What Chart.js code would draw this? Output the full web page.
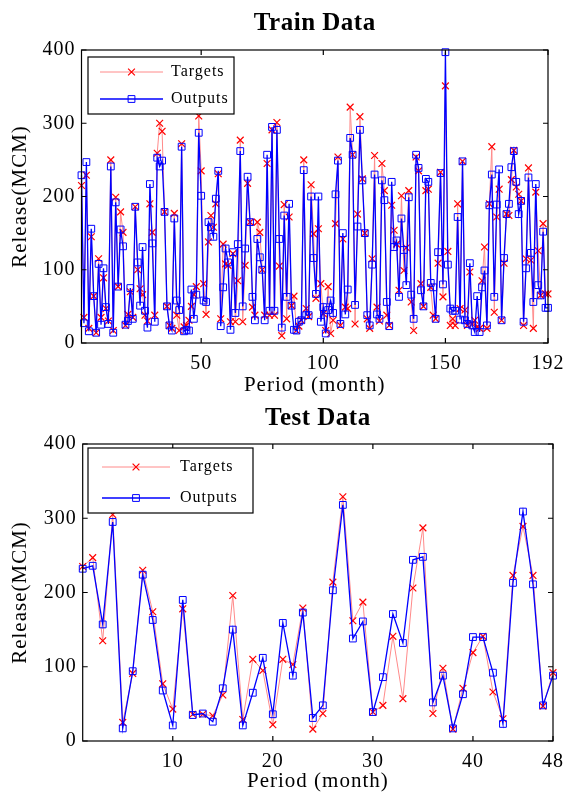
<!DOCTYPE html>
<html>
<head>
<meta charset="utf-8">
<script src="https://cdn.jsdelivr.net/npm/chart.js@4.4.1/dist/chart.umd.min.js"></script>
<style>
  html, body { margin: 0; padding: 0; background: #fff; }
  canvas { display: block; }
</style>
</head>
<body>
<canvas id="graficoTreino" width="572" height="398"></canvas>
<canvas id="graficoTeste" width="572" height="398"></canvas>
<script>
// valores (MCM por mes)
const trainTargets = [
  215, 35, 229, 20, 145, 64, 14, 115, 35, 89, 47, 30, 250, 17, 199, 77, 179, 151, 24, 39,
  70, 35, 186, 100, 74, 66, 38, 30, 190, 151, 38, 259, 300, 289, 179, 50, 24, 20, 177, 38,
  17, 272, 22, 24, 31, 50, 66, 77, 310, 235, 81, 39, 138, 174, 158, 190, 231, 33, 135, 108,
  106, 29, 122, 29, 85, 277, 29, 106, 218, 165, 49, 38, 165, 151, 100, 38, 245, 38, 291, 38,
  301, 105, 10, 189, 33, 172, 51, 64, 17, 23, 31, 250, 47, 36, 216, 149, 61, 156, 81, 40,
  17, 77, 13, 31, 163, 254, 24, 142, 49, 47, 322, 257, 26, 176, 309, 224, 150, 33, 20, 115,
  256, 49, 30, 245, 208, 38, 24, 188, 154, 135, 72, 201, 99, 130, 208, 56, 17, 254, 235, 81,
  50, 208, 210, 76, 38, 33, 109, 233, 63, 351, 125, 24, 33, 24, 190, 47, 248, 45, 24, 97,
  26, 31, 22, 20, 85, 131, 20, 190, 268, 42, 172, 210, 31, 109, 176, 174, 223, 263, 213, 203,
  194, 24, 115, 239, 113, 20, 206, 126, 65, 163, 67, 67
];
const trainOutputs = [
  229, 27, 247, 16, 156, 64, 14, 108, 25, 102, 49, 26, 241, 14, 192, 77, 155, 132, 25, 30,
  75, 33, 186, 110, 51, 131, 44, 21, 217, 136, 29, 253, 241, 249, 179, 50, 24, 17, 170, 58,
  45, 268, 16, 18, 17, 73, 33, 66, 287, 201, 58, 56, 165, 158, 145, 197, 235, 23, 76, 129,
  110, 18, 124, 41, 135, 262, 50, 129, 227, 165, 63, 31, 142, 117, 100, 31, 257, 44, 295, 44,
  291, 142, 21, 174, 63, 190, 51, 18, 17, 29, 31, 236, 38, 38, 200, 116, 67, 200, 29, 49,
  13, 45, 58, 41, 203, 249, 26, 150, 39, 73, 280, 257, 52, 159, 291, 222, 150, 38, 24, 107,
  230, 39, 33, 222, 195, 56, 23, 220, 131, 140, 63, 170, 127, 79, 199, 66, 33, 257, 239, 72,
  50, 224, 220, 82, 76, 33, 124, 232, 80, 397, 107, 47, 44, 44, 172, 32, 248, 31, 26, 109,
  24, 15, 64, 15, 76, 99, 24, 188, 230, 63, 189, 237, 31, 116, 176, 190, 240, 262, 220, 176,
  194, 29, 102, 226, 123, 56, 217, 79, 65, 152, 48, 48
];
const testTargets = [
  235, 247, 135, 305, 25, 91, 230, 174, 77, 43, 178, 36, 36, 34, 62, 196, 29, 110, 95, 22,
  110, 103, 179, 16, 37, 214, 329, 162, 187, 39, 48, 141, 57, 206, 287, 37, 98, 16, 71, 119,
  141, 66, 30, 223, 289, 223, 47, 92
];
const testOutputs = [
  232, 236, 157, 295, 17, 94, 224, 163, 68, 21, 190, 35, 37, 26, 71, 150, 21, 65, 112, 36,
  159, 88, 173, 31, 48, 203, 318, 138, 161, 39, 86, 171, 132, 244, 248, 52, 88, 17, 63, 140,
  140, 92, 23, 213, 309, 211, 48, 88
];
const trainTicksX = [50, 100, 150, 192];
const testTicksX = [10, 20, 30, 40, 48];
const seriesNames = ['Targets', 'Outputs'];

const fonte = "'Liberation Serif', 'Times New Roman', serif";
const espacoLetras = '1px';

// caixa do eixo com marcas para dentro, como no matlab
const moldura = {
  id: 'moldura',
  beforeDraw(chart) {
    chart.ctx.letterSpacing = espacoLetras;
  },
  afterDatasetsDraw(chart) {
    const { ctx, chartArea: a, scales } = chart;
    const tam = 5;
    ctx.save();
    ctx.strokeStyle = '#000';
    ctx.lineWidth = 1.2;
    ctx.strokeRect(a.left, a.top, a.right - a.left, a.bottom - a.top);
    ctx.beginPath();
    scales.x.ticks.forEach(t => {
      const px = scales.x.getPixelForValue(t.value);
      ctx.moveTo(px, a.bottom); ctx.lineTo(px, a.bottom - tam);
      ctx.moveTo(px, a.top); ctx.lineTo(px, a.top + tam);
    });
    scales.y.ticks.forEach(t => {
      const py = scales.y.getPixelForValue(t.value);
      ctx.moveTo(a.left, py); ctx.lineTo(a.left + tam, py);
      ctx.moveTo(a.right, py); ctx.lineTo(a.right - tam, py);
    });
    ctx.stroke();
    ctx.restore();
  }
};

// titulo centrado sobre a area do grafico
function tituloCentrado(texto, y) {
  return {
    id: 'tituloCentrado',
    afterDraw(chart) {
      const { ctx, chartArea: a } = chart;
      ctx.save();
      ctx.fillStyle = '#000';
      ctx.font = 'bold 25px ' + fonte;
      ctx.letterSpacing = '0.5px';
      ctx.textAlign = 'center';
      ctx.textBaseline = 'middle';
      ctx.fillText(texto, (a.left + a.right) / 2, y);
      ctx.restore();
    }
  };
}

function legendaInterna(caixa) {
  return {
    id: 'legendaInterna',
    afterDraw(chart) {
      const ctx = chart.ctx;
      ctx.save();
      ctx.fillStyle = '#fff';
      ctx.fillRect(caixa.x, caixa.y, caixa.w, caixa.h);
      ctx.strokeStyle = '#000';
      ctx.lineWidth = 1.2;
      ctx.strokeRect(caixa.x, caixa.y, caixa.w, caixa.h);
      chart.data.datasets.forEach((ds, i) => {
        const y = caixa.linhas[i];
        const mx = (caixa.x0 + caixa.x1) / 2;
        ctx.strokeStyle = ds.borderColor;
        ctx.lineWidth = ds.borderWidth;
        ctx.beginPath();
        ctx.moveTo(caixa.x0, y);
        ctx.lineTo(caixa.x1, y);
        ctx.stroke();
        ctx.strokeStyle = ds.pointBorderColor;
        ctx.lineWidth = ds.pointBorderWidth;
        const r = ds.pointRadius / Math.SQRT2;
        ctx.beginPath();
        if (ds.pointStyle === 'rect') {
          ctx.rect(mx - r, y - r, 2 * r, 2 * r);
        } else {
          ctx.moveTo(mx - r, y - r); ctx.lineTo(mx + r, y + r);
          ctx.moveTo(mx + r, y - r); ctx.lineTo(mx - r, y + r);
        }
        ctx.stroke();
        ctx.fillStyle = '#000';
        ctx.font = '16px ' + fonte;
        ctx.letterSpacing = espacoLetras;
        ctx.textBaseline = 'middle';
        ctx.textAlign = 'left';
        ctx.fillText(ds.label, caixa.xt, y);
      });
      ctx.restore();
    }
  };
}

function montarGrafico(idCanvas, cfg) {
  const periodos = cfg.alvos.map((_, i) => i + 1);
  return new Chart(document.getElementById(idCanvas), {
    type: 'line',
    data: {
      datasets: [
        {
          label: seriesNames[0],
          data: periodos.map((p, i) => ({ x: p, y: cfg.alvos[i] })),
          borderColor: '#ff8a8a', borderWidth: 1,
          pointStyle: 'crossRot', pointRadius: 4.8,
          pointBorderColor: '#ff0000', pointBorderWidth: 1.2,
          pointBackgroundColor: 'rgba(0,0,0,0)',
          tension: 0, clip: false, order: 2
        },
        {
          label: seriesNames[1],
          data: periodos.map((p, i) => ({ x: p, y: cfg.saidas[i] })),
          borderColor: '#0000ff', borderWidth: 1.3,
          pointStyle: 'rect', pointRadius: 4.8,
          pointBorderColor: '#0000ff', pointBorderWidth: 1,
          pointBackgroundColor: 'rgba(0,0,0,0)',
          tension: 0, clip: false, order: 1
        }
      ]
    },
    options: {
      responsive: false,
      animation: false,
      layout: { padding: { left: 0, right: cfg.direita, top: cfg.topo, bottom: 0 } },
      plugins: {
        legend: { display: false },
        tooltip: { enabled: false },
        title: { display: false }
      },
      scales: {
        x: {
          type: 'linear', min: 1, max: periodos.length,
          afterBuildTicks: s => { s.ticks = cfg.ticksX.map(v => ({ value: v })); },
          afterFit: s => { s.height = 55; },
          grid: { display: false, drawTicks: false },
          border: { display: false },
          ticks: { color: '#000', font: { family: fonte, size: 20 }, padding: 9, maxRotation: 0, autoSkip: false },
          title: {
            display: true, text: 'Period (month)', color: '#000',
            font: { family: fonte, size: 21 }, padding: { top: 0, bottom: cfg.baseTituloX }
          }
        },
        y: {
          min: 0, max: 400,
          afterFit: s => { s.width = cfg.esquerda; },
          grid: { display: false, drawTicks: false },
          border: { display: false },
          ticks: { stepSize: 100, color: '#000', font: { family: fonte, size: 20 }, padding: 6 },
          title: {
            display: true, text: 'Release(MCM)', color: '#000',
            font: { family: fonte, size: 21 }, padding: { top: 8, bottom: 0 }
          }
        }
      }
    },
    plugins: [moldura, tituloCentrado(cfg.titulo, cfg.tituloY), legendaInterna(cfg.legenda)]
  });
}

montarGrafico('graficoTreino', {
  titulo: 'Train Data', alvos: trainTargets, saidas: trainOutputs, ticksX: trainTicksX,
  esquerda: 81.5, direita: 18.5, topo: 50, tituloY: 24, baseTituloX: 0,
  legenda: { x: 88, y: 57, w: 146, h: 57, linhas: [72, 99], x0: 100, x1: 163, xt: 171 }
});

montarGrafico('graficoTeste', {
  titulo: 'Test Data', alvos: testTargets, saidas: testOutputs, ticksX: testTicksX,
  esquerda: 82.7, direita: 13, topo: 46, tituloY: 21, baseTituloX: 2,
  legenda: { x: 88, y: 50, w: 165, h: 65, linhas: [69, 100], x0: 102, x1: 170, xt: 180 }
});
</script>
</body>
</html>
